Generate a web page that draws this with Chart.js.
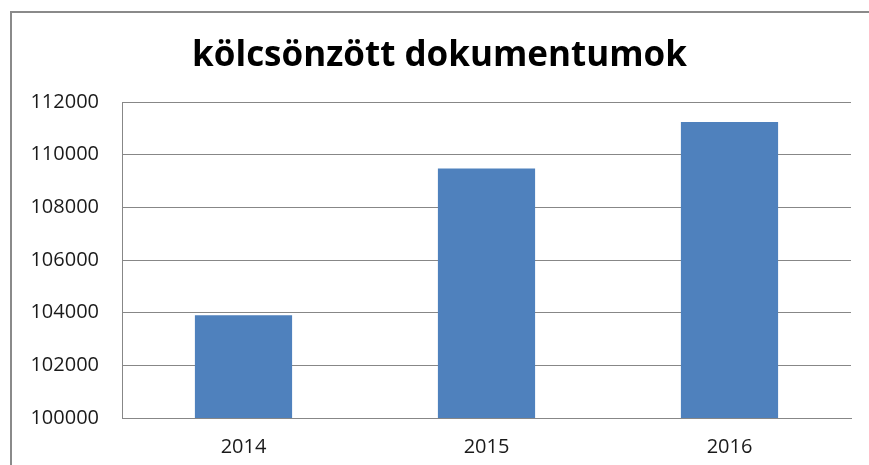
<!DOCTYPE html>
<html>
<head>
<meta charset="utf-8">
<script src="https://cdn.jsdelivr.net/npm/chart.js@4"></script>
<style>
    html, body { margin: 0; padding: 0; background: #ffffff; }
    #wrap { position: relative; width: 869px; height: 465px; overflow: hidden; }
    #frame {
        position: absolute; left: 10px; top: 11px; width: 900px; height: 500px;
        border-left: 2px solid #8a8a8a; border-top: 2px solid #8a8a8a;
    }
    #chart { position: absolute; left: 0; top: 0; }
</style>
</head>
<body>
<div id="wrap">
    <div id="frame"></div>
    <canvas id="chart" width="869" height="465"></canvas>
</div>
<script>
const title_text = "kölcsönzött dokumentumok";
const years = ["2014", "2015", "2016"];
const borrowed = [103900, 109470, 111240];
const y_min = 100000;
const y_max = 112000;
const y_step = 2000;

const grid_color = "#878787";

const data_docs = {
    labels: years,
    datasets: [{
        label: title_text,
        backgroundColor: "#4f81bd",
        borderWidth: 0,
        data: borrowed,
        barPercentage: 0.4,
        categoryPercentage: 1.0,
    }]
};

const config_docs = {
    type: "bar",
    data: data_docs,
    options: {
        responsive: false,
        animation: false,
        layout: {
            // left padding nudges the title centre right; y labels must stay inside the axis box
            padding: { left: 28, right: 18, top: 0, bottom: 0 }
        },
        plugins: {
            legend: { display: false },
            tooltip: { enabled: false },
            title: {
                display: true,
                text: title_text,
                color: "#000000",
                font: { family: "Open Sans", size: 35, weight: "bold", lineHeight: 1.2 },
                padding: { top: 35, bottom: 25 }
            }
        },
        scales: {
            x: {
                grid: { display: false, drawTicks: false },
                border: { display: true, color: grid_color, width: 1 },
                ticks: {
                    color: "#1a1a1a",
                    font: { family: "Open Sans", size: 20 },
                    padding: 17
                },
                afterFit: function (scale) { scale.height = 47; }
            },
            y: {
                min: y_min,
                max: y_max,
                grid: { color: grid_color, lineWidth: 1, drawTicks: false },
                border: { display: true, color: grid_color, width: 1 },
                ticks: {
                    stepSize: y_step,
                    color: "#1a1a1a",
                    font: { family: "Open Sans", size: 20 },
                    padding: 23,
                    callback: function (v) { return String(v); }
                },
                afterFit: function (scale) { scale.width = 94; }
            }
        }
    }
};

var DocsChart = new Chart(document.getElementById("chart"), config_docs);
</script>
</body>
</html>
